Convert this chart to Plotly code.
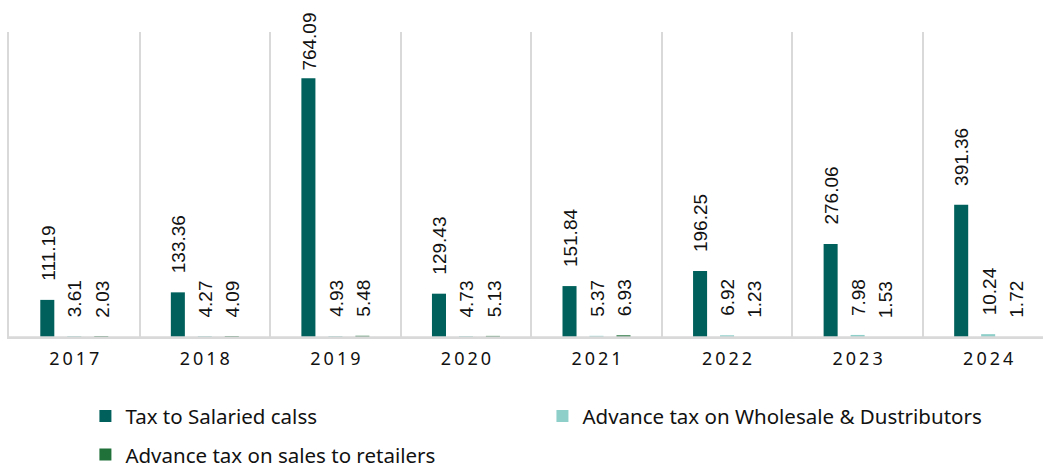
import plotly.graph_objects as go

# Annual collections by withholding category
years = ["2017", "2018", "2019", "2020", "2021", "2022", "2023", "2024"]
year_labels = ["\u2009".join(y) for y in years]

salaried = [111.19, 133.36, 764.09, 129.43, 151.84, 196.25, 276.06, 391.36]
wholesale = [3.61, 4.27, 4.93, 4.73, 5.37, 6.92, 7.98, 10.24]
retailers = [2.03, 4.09, 5.48, 5.13, 6.93, 1.23, 1.53, 1.72]

series_names = [
    "Tax to Salaried calss",
    "Advance tax on Wholesale & Dustributors",
    "Advance tax on sales to retailers",
]
series_values = [salaried, wholesale, retailers]
series_colors = ["#00605B", "#8ECFCA", "#1F7039"]
series_legends = ["legend", "legend2", "legend"]

# figure geometry
W, H = 1043, 463
M_L, M_R, M_T, M_B = 9, 0, 32, 124
X_RANGE = [-0.5, 7.42]
Y_RANGE = [-4, 900]
BARGAP, BARGROUPGAP = 0.38, 0.48
GRID = "#d9d9d9"

label_font = dict(family="Liberation Sans", size=19, color="#111111")

fig = go.Figure()
for i, (name, vals, color, lg) in enumerate(zip(series_names, series_values, series_colors, series_legends)):
    fig.add_trace(go.Bar(
        x=years,
        y=vals,
        name=name,
        marker=dict(color=color, line=dict(width=0)),
        legend=lg,
        legendgroup=f"g{i}",
        hoverinfo="x+y+name",
    ))

# rotated value labels above each bar (category axis positions are indices)
plot_w = W - M_L - M_R
plot_h = H - M_T - M_B
cat_px = plot_w / (X_RANGE[1] - X_RANGE[0])
slot_px = cat_px * (1 - BARGAP) / len(series_values)
px_per_unit = plot_h / (Y_RANGE[1] - Y_RANGE[0])
annotations = []
for i, vals in enumerate(series_values):
    offset = (i - (len(series_values) - 1) / 2) * slot_px
    for k, v in enumerate(vals):
        txt = f"{v:.2f}"
        bar_top = M_T + (Y_RANGE[1] - v) * px_per_unit
        est_len = 10.2 * len(txt)
        gap = min(18, bar_top - 10 - est_len)
        annotations.append(dict(
            x=k, y=v, xref="x", yref="y",
            text=txt,
            textangle=-90,
            showarrow=False,
            xanchor="center", yanchor="bottom",
            xshift=offset + 1, yshift=gap,
            font=label_font,
            borderpad=0,
        ))

fig.update_layout(
    width=W,
    height=H,
    margin=dict(l=M_L, r=M_R, t=M_T, b=M_B, autoexpand=False),
    paper_bgcolor="white",
    plot_bgcolor="white",
    barmode="group",
    bargap=BARGAP,
    bargroupgap=BARGROUPGAP,
    font=dict(family="Noto Sans", size=18, color="#111111"),
    annotations=annotations,
    # category baseline drawn over the bars at zero
    shapes=[dict(
        type="line", xref="paper", yref="y",
        x0=0, x1=1, y0=0, y1=0,
        line=dict(color=GRID, width=3),
        layer="above",
    )],
    xaxis=dict(
        type="category",
        range=X_RANGE,
        tickson="boundaries",
        showgrid=True,
        gridcolor=GRID,
        gridwidth=1.5,
        showline=False,
        ticks="",
        tickmode="array",
        tickvals=years,
        ticktext=year_labels,
        tickfont=dict(family="Noto Sans", size=18, color="#111111"),
        ticklabelstandoff=7,
    ),
    yaxis=dict(
        range=Y_RANGE,
        showgrid=False,
        zeroline=False,
        showticklabels=False,
        showline=True,
        linecolor=GRID,
        linewidth=1.5,
    ),
    legend=dict(
        orientation="v",
        x=0.0739, xanchor="left",
        y=-0.186, yanchor="top",
        traceorder="grouped",
        tracegroupgap=9,
        itemwidth=30,
        font=dict(family="Noto Sans", size=20.5, color="#111111"),
        bgcolor="rgba(0,0,0,0)",
    ),
    legend2=dict(
        orientation="v",
        x=0.5159, xanchor="left",
        y=-0.186, yanchor="top",
        itemwidth=30,
        font=dict(family="Noto Sans", size=20.5, color="#111111"),
        bgcolor="rgba(0,0,0,0)",
    ),
)

fig.write_html("out.html")
